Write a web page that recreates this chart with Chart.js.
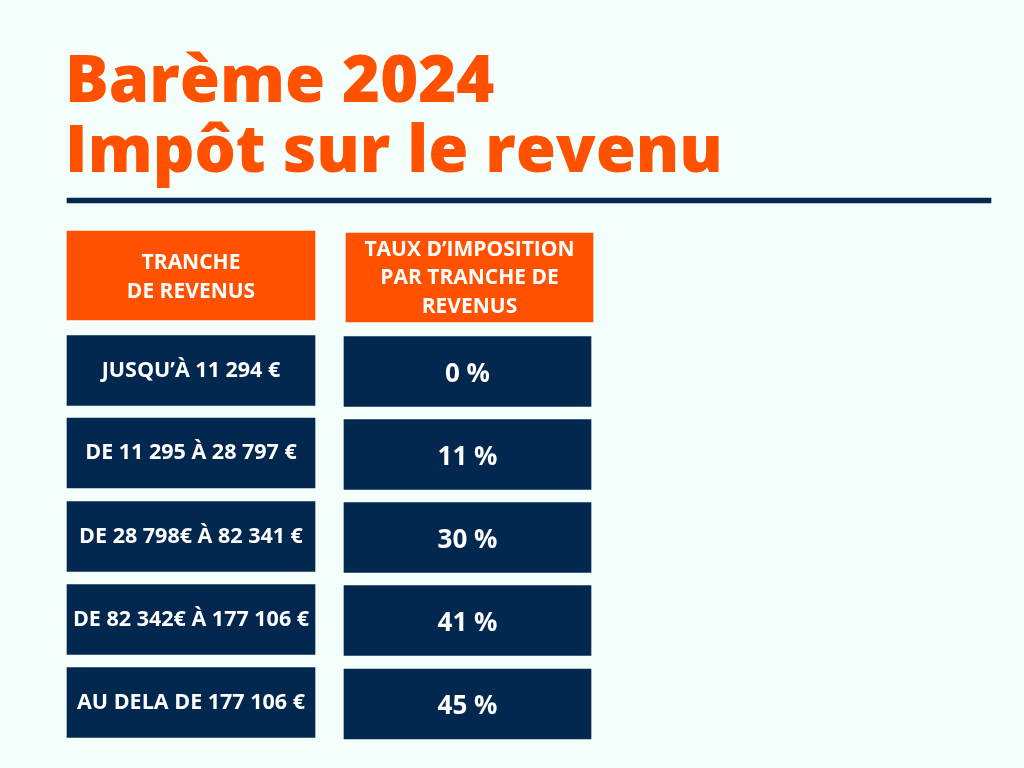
<!DOCTYPE html>
<html lang="fr">
<head>
<meta charset="utf-8">
<title>Barème 2024 - Impôt sur le revenu</title>
<script src="https://cdn.jsdelivr.net/npm/chart.js@4"></script>
<style>
  html, body { margin: 0; padding: 0; background: #f4fffb; }
  #bareme { display: block; }
</style>
</head>
<body>
<canvas id="bareme" width="1024" height="768"></canvas>
<script>
// Texts and values
const titleLines = ['Barème 2024', 'Impôt sur le revenu'];
const headerTranche = ['TRANCHE', 'DE REVENUS'];
const headerTaux = ['TAUX D’IMPOSITION', 'PAR TRANCHE DE', 'REVENUS'];
const tranches = [
    'JUSQU’À 11 294 €',
    'DE 11 295 À 28 797 €',
    'DE 28 798€ À 82 341 €',
    'DE 82 342€ À 177 106 €',
    'AU DELA DE 177 106 €',
];
const taux = [0, 11, 30, 41, 45];

// Layout (pixel-like units on both hidden linear axes)
const ORANGE = '#ff5100';
const NAVY = '#02284f';
const FONT = "'Open Sans', 'DejaVu Sans', sans-serif";
const rowsLeft = [370.5, 453, 536.5, 619.5, 702.5];
const rowsRight = [371.5, 454.5, 537.5, 620.5, 704];
const colLeft = [67, 315];
const colRight = [344, 591];

function cellText(ctx, lines, cx, cy, size, lineHeight) {
    ctx.font = `700 ${size}px ${FONT}`;
    ctx.fillStyle = '#ffffff';
    ctx.textAlign = 'center';
    ctx.textBaseline = 'middle';
    const top = cy - (lines.length - 1) * lineHeight / 2;
    lines.forEach((line, i) => ctx.fillText(line, cx, top + i * lineHeight));
}

const labelsPlugin = {
    id: 'labels',
    afterDatasetsDraw(chart) {
        const ctx = chart.ctx;
        const xs = chart.scales.x;
        const ys = chart.scales.y;
        ctx.save();

        // title
        ctx.font = `800 65px ${FONT}`;
        ctx.fillStyle = ORANGE;
        ctx.textAlign = 'left';
        ctx.textBaseline = 'alphabetic';
        ctx.fillText(titleLines[0], xs.getPixelForValue(65), ys.getPixelForValue(102));
        ctx.fillText(titleLines[1], xs.getPixelForValue(65), ys.getPixelForValue(172));

        // header cells
        const head = chart.getDatasetMeta(1).data;
        cellText(ctx, headerTranche, (head[0].x + head[0].base) / 2, head[0].y + 2, 21, 28.5);
        cellText(ctx, headerTaux, (head[1].x + head[1].base) / 2, head[1].y + 1, 21, 28.5);

        // tranche labels
        chart.getDatasetMeta(2).data.forEach((el, i) => {
            cellText(ctx, [tranches[i]], (el.x + el.base) / 2, el.y, 21.5, 0);
        });

        // rates
        chart.getDatasetMeta(3).data.forEach((el, i) => {
            cellText(ctx, [taux[i] + ' %'], (el.x + el.base) / 2, el.y + 3, 26, 0);
        });

        ctx.restore();
    }
};

const ctx = document.getElementById('bareme').getContext('2d');

new Chart(ctx, {
    type: 'bar',
    data: {
        datasets: [
            {
                label: 'rule',
                data: [{ x: [67, 991], y: 200.5 }],
                backgroundColor: NAVY,
                barThickness: 5,
            },
            {
                label: 'headers',
                data: [
                    { x: colLeft, y: 275.5 },
                    { x: [346, 593], y: 277.5 },
                ],
                backgroundColor: ORANGE,
                barThickness: 89,
            },
            {
                label: 'Tranche de revenus',
                data: tranches.map((t, i) => ({ x: colLeft, y: rowsLeft[i] })),
                backgroundColor: NAVY,
                barThickness: 70,
            },
            {
                label: 'Taux d’imposition',
                data: taux.map((t, i) => ({ x: colRight, y: rowsRight[i] })),
                backgroundColor: NAVY,
                barThickness: 70,
            },
        ],
    },
    options: {
        indexAxis: 'y',
        responsive: false,
        animation: false,
        devicePixelRatio: 1,
        layout: { padding: 0 },
        datasets: { bar: { grouped: false, borderSkipped: false, borderWidth: 0 } },
        scales: {
            x: { type: 'linear', min: 0, max: 1024, offset: false, display: false },
            y: { type: 'linear', min: 0, max: 768, reverse: true, offset: false, display: false },
        },
        plugins: {
            legend: { display: false },
            tooltip: { enabled: false },
            title: { display: false },
        },
    },
    plugins: [labelsPlugin],
});
</script>
</body>
</html>
